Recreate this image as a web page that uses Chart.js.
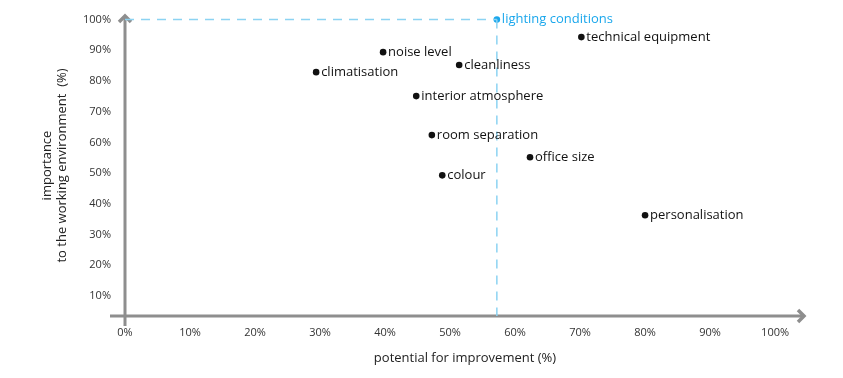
<!DOCTYPE html>
<html>
<head>
<meta charset="utf-8">
<script src="https://cdn.jsdelivr.net/npm/chart.js@4"></script>
<style>
  html, body { margin: 0; padding: 0; background: #fff; }
  #wrap { width: 843px; height: 378px; }
</style>
</head>
<body>
<div id="wrap"><canvas id="myChart"></canvas></div>
<script>
// factors
const factors = ['lighting conditions', 'technical equipment', 'noise level', 'cleanliness',
  'climatisation', 'interior atmosphere', 'room separation', 'office size', 'colour', 'personalisation'];
const potential = [57.2, 70.2, 39.7, 51.4, 29.4, 44.8, 47.2, 62.3, 48.8, 80.0];
const importance = [100, 94.3, 89.4, 85.2, 82.9, 75.1, 62.4, 55.2, 49.3, 36.3];
const highlight = 0; // lighting conditions

const xTicks = [0, 10, 20, 30, 40, 50, 60, 70, 80, 90, 100];
const yTicks = [10, 20, 30, 40, 50, 60, 70, 80, 90, 100];

const GREY = '#8e8e8e';
const BLUE = '#1aa7ec';
const DASH = '#8cd3f2';

const points = potential.map((x, i) => ({ x: x, y: importance[i] }));
const hx = potential[highlight], hy = importance[highlight];

// axes with arrow heads + point labels
const decor = {
  id: 'decor',
  beforeDatasetsDraw(chart) {
    const { ctx, chartArea: a } = chart;
    ctx.save();
    ctx.strokeStyle = GREY;
    ctx.lineWidth = 3;
    ctx.beginPath();
    ctx.moveTo(a.left - 15, a.bottom);
    ctx.lineTo(a.right - 2, a.bottom);
    ctx.moveTo(a.left, a.bottom + 10);
    ctx.lineTo(a.left, a.top + 2);
    ctx.stroke();
    ctx.lineWidth = 3.5;
    ctx.lineJoin = 'miter';
    ctx.beginPath();
    ctx.moveTo(a.right - 7, a.bottom - 6);
    ctx.lineTo(a.right - 1, a.bottom);
    ctx.lineTo(a.right - 7, a.bottom + 6);
    ctx.moveTo(a.left - 6, a.top + 7);
    ctx.lineTo(a.left, a.top + 1);
    ctx.lineTo(a.left + 6, a.top + 7);
    ctx.stroke();
    ctx.restore();
  },
  afterDatasetsDraw(chart) {
    const { ctx } = chart;
    const meta = chart.getDatasetMeta(2);
    ctx.save();
    ctx.font = '13px "Open Sans"';
    ctx.textBaseline = 'middle';
    meta.data.forEach((pt, i) => {
      ctx.fillStyle = i === highlight ? BLUE : '#111';
      ctx.fillText(factors[i], pt.x + 5, pt.y);
    });
    ctx.restore();
  }
};

const ctx = document.getElementById('myChart');
new Chart(ctx, {
  type: 'scatter',
  data: {
    datasets: [
      {
        type: 'line',
        data: [{ x: 0, y: hy }, { x: hx, y: hy }],
        borderColor: DASH, borderWidth: 1.5, borderDash: [9, 7],
        pointRadius: 0, fill: false
      },
      {
        type: 'line',
        data: [{ x: hx, y: hy }, { x: hx, y: 3.5 }],
        borderColor: DASH, borderWidth: 1.5, borderDash: [9, 7],
        pointRadius: 0, fill: false
      },
      {
        data: points,
        pointRadius: 3.3,
        pointBorderWidth: 0,
        pointBackgroundColor: points.map((p, i) => i === highlight ? BLUE : '#111'),
        pointBorderColor: points.map((p, i) => i === highlight ? BLUE : '#111')
      }
    ]
  },
  options: {
    responsive: true,
    maintainAspectRatio: false,
    animation: false,
    layout: { padding: { top: 15, right: 38, left: 0, bottom: 12 } },
    plugins: { legend: { display: false }, tooltip: { enabled: false } },
    scales: {
      x: {
        type: 'linear', min: 0, max: 104.6,
        grid: { display: false, drawTicks: false },
        border: { display: false },
        ticks: {
          padding: 10, color: '#333', autoSkip: false, maxRotation: 0,
          font: { family: 'Open Sans', size: 11 },
          callback: v => v + '%'
        },
        afterBuildTicks: s => { s.ticks = xTicks.map(v => ({ value: v })); },
        title: {
          display: true, text: 'potential for improvement (%)', color: '#222',
          font: { family: 'Open Sans', size: 13 }, padding: { top: 0, bottom: 0 }
        },
        afterFit: s => { s.height = 50; s.paddingLeft = 0; s.paddingRight = 0; }
      },
      y: {
        type: 'linear', min: 3.5, max: 101.5,
        grid: { display: false, drawTicks: false },
        border: { display: false },
        ticks: {
          padding: 14, color: '#333', autoSkip: false,
          font: { family: 'Open Sans', size: 11 },
          callback: v => v + '%'
        },
        afterBuildTicks: s => { s.ticks = yTicks.map(v => ({ value: v })); },
        title: {
          display: true, text: ['importance', 'to the working environment  (%)'], color: '#222',
          font: { family: 'Open Sans', size: 13, lineHeight: 1.15 }, padding: { top: 40, bottom: 0 }
        },
        afterFit: s => { s.width = 125; s.paddingTop = 0; s.paddingBottom = 0; }
      }
    }
  },
  plugins: [decor]
});
</script>
</body>
</html>
